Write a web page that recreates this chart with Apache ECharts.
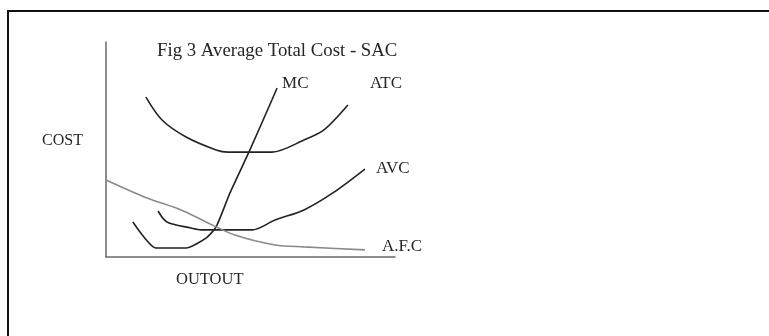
<!DOCTYPE html>
<html>
<head>
<meta charset="utf-8">
<script src="https://cdn.jsdelivr.net/npm/echarts@6/dist/echarts.min.js"></script>
<style>
html,body{margin:0;padding:0;background:#fff;}
#chart{width:769px;height:336px;}
</style>
</head>
<body>
<div id="chart"></div>
<script>
// Output (x) and cost (y) on a 0-100 scale
const atcX = [13.8, 19.4, 27.7, 38.1, 42.2, 57.4, 68.5, 75.4, 83.7];
const atcY = [74.4, 63.7, 55.8, 49.8, 48.8, 48.8, 54.4, 59.1, 70.7];

const mcX = [9.3, 17.3, 27.7, 34.6, 38.1, 42.9, 49.8, 57.4, 59.2];
const mcY = [16.3, 4.2, 4.2, 8.8, 14.0, 29.8, 49.8, 73.0, 78.6];

const avcX = [18.0, 21.1, 29.4, 32.9, 50.5, 58.5, 68.5, 78.5, 89.6];
const avcY = [21.4, 16.3, 13.5, 12.6, 12.6, 17.2, 21.9, 29.8, 40.9];

const afcX = [0, 14.2, 26.0, 34.6, 44.6, 58.5, 68.5, 89.6];
const afcY = [35.8, 27.4, 21.9, 16.3, 10.2, 5.6, 4.7, 3.3];

const titleText = 'Fig 3 Average Total Cost - SAC';
const yName = 'COST';
const xName = 'OUTOUT';

function pairs(xs, ys){ return xs.map((x,i)=>[x, ys[i]]); }

const serif = '"Liberation Serif", "DejaVu Serif", serif';
const chart = echarts.init(document.getElementById('chart'), null, {renderer:'canvas'});

function lineSeries(name, xs, ys, color, width, offset, smooth){
  return {
    type:'line', name:name, data:pairs(xs, ys), symbol:'none', smooth:smooth,
    lineStyle:{color:color, width:width},
    endLabel:{show:true, formatter:name === 'AFC' ? 'A.F.C' : name, offset:offset,
      color:'#262626', fontFamily:serif, fontSize:17},
    emphasis:{disabled:true}
  };
}

chart.setOption({
  animation:false,
  backgroundColor:'#fff',
  title:{text:titleText, left:152, top:37,
    textStyle:{fontFamily:serif, fontSize:18.8, fontWeight:'normal', color:'#262626'}},
  grid:{left:106, top:42, width:289, height:215},
  xAxis:{type:'value', min:0, max:100,
    axisLine:{show:true, lineStyle:{color:'#6a6a6a', width:1.5}},
    axisTick:{show:false}, axisLabel:{show:false}, splitLine:{show:false}},
  yAxis:{type:'value', min:0, max:100,
    axisLine:{show:true, lineStyle:{color:'#6a6a6a', width:1.5}},
    axisTick:{show:false}, axisLabel:{show:false}, splitLine:{show:false}},
  graphic:[
    {type:'line', shape:{x1:7, y1:11, x2:769, y2:11}, style:{stroke:'#111', lineWidth:2}},
    {type:'line', shape:{x1:8, y1:11, x2:8, y2:336}, style:{stroke:'#111', lineWidth:2}},
    {type:'text', left:42, top:133, style:{text:yName, font:'16px ' + serif, fill:'#262626'}},
    {type:'text', left:176, top:271, style:{text:xName, font:'16.5px ' + serif, fill:'#262626'}}
  ],
  series:[
    lineSeries('ATC', atcX, atcY, '#222', 1.6, [14,-21], 0.3),
    lineSeries('MC', mcX, mcY, '#222', 1.6, [-3,-4], 0.2),
    lineSeries('AVC', avcX, avcY, '#222', 1.6, [3,-1], 0.3),
    lineSeries('AFC', afcX, afcY, '#8a8a8a', 1.6, [9,-3], 0.3)
  ]
});
</script>
</body>
</html>
